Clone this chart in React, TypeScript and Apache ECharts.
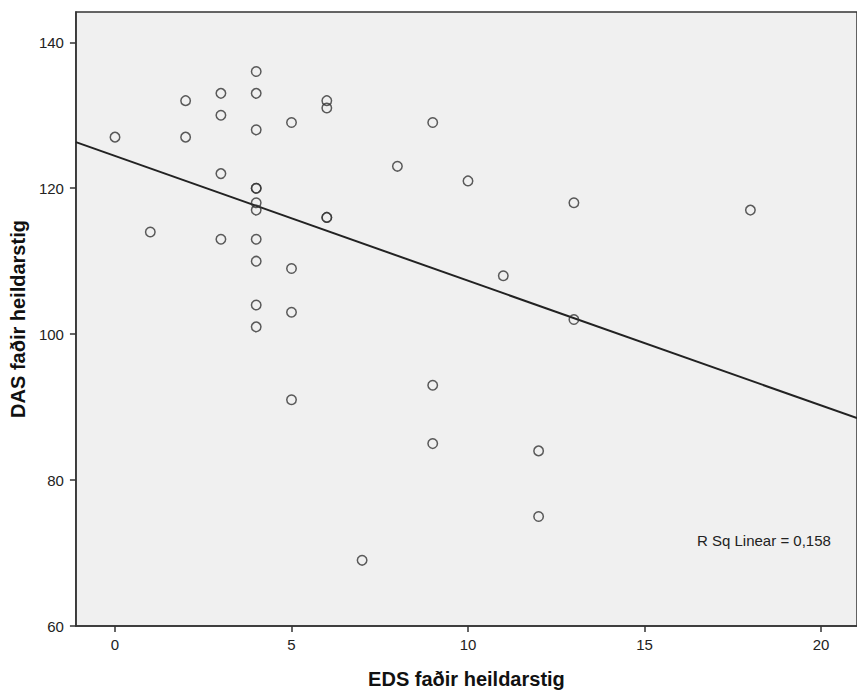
import React, { useEffect, useRef } from "react";
import * as echarts from "echarts";

// EDS faðir heildarstig (x) and DAS faðir heildarstig (y)
const edsValues: number[] = [
  0, 1, 2, 2, 3, 3, 3, 3,
  4, 4, 4, 4, 4, 4, 4, 4, 4, 4, 4,
  5, 5, 5, 5,
  6, 6, 6, 6,
  7, 8, 9, 9, 9, 10, 11, 12, 12, 13, 13, 18,
];
const dasValues: number[] = [
  127, 114, 132, 127, 133, 130, 122, 113,
  136, 133, 128, 120, 120, 118, 117, 113, 110, 104, 101,
  129, 109, 103, 91,
  132, 131, 116, 116,
  69, 123, 129, 93, 85, 121, 108, 84, 75, 118, 102, 117,
];
const xTicks: number[] = [0, 5, 10, 15, 20];
const yTicks: number[] = [60, 80, 100, 120, 140];
const rSquaredLabel = "R Sq Linear = 0,158";
const xTitle = "EDS faðir heildarstig";
const yTitle = "DAS faðir heildarstig";

const X_MIN = -1.107;
const X_MAX = 21.02;
const Y_MIN = 60;
const Y_MAX = 144.15;

export default function App() {
  const ref = useRef<HTMLDivElement>(null);
  useEffect(() => {
    if (!ref.current) return;
    const chart = echarts.init(ref.current, undefined, { renderer: "svg" });
    const pts = edsValues.map((x, i) => [x, dasValues[i]]);
    const n = pts.length;
    const mx = edsValues.reduce((a, b) => a + b, 0) / n;
    const my = dasValues.reduce((a, b) => a + b, 0) / n;
    let sxy = 0;
    let sxx = 0;
    pts.forEach(([x, y]) => {
      sxy += (x - mx) * (y - my);
      sxx += (x - mx) * (x - mx);
    });
    const slope = sxy / sxx;
    const intercept = my - slope * mx;
    const fit = [
      [X_MIN, intercept + slope * X_MIN],
      [X_MAX, intercept + slope * X_MAX],
    ];
    const font = "'Liberation Sans', Arial, sans-serif";
    chart.setOption({
      animation: false,
      grid: {
        left: 75,
        top: 12,
        right: -3,
        bottom: 67,
        show: true,
        backgroundColor: "#f0f0f0",
        borderColor: "#333",
        borderWidth: 1.5,
      },
      xAxis: {
        type: "value",
        min: X_MIN,
        max: X_MAX,
        name: xTitle,
        nameLocation: "middle",
        nameGap: 43,
        nameTextStyle: { fontFamily: font, fontSize: 20, fontWeight: "bold", color: "#111" },
        axisLine: { show: true, onZero: false, lineStyle: { color: "#333", width: 1.5 } },
        axisTick: { show: true, customValues: xTicks, length: 6, lineStyle: { color: "#333", width: 1.5 } },
        axisLabel: { customValues: xTicks, margin: 11, fontFamily: font, fontSize: 15, color: "#222" },
        splitLine: { show: false },
      },
      yAxis: {
        type: "value",
        min: Y_MIN,
        max: Y_MAX,
        name: yTitle,
        nameLocation: "middle",
        nameRotate: 90,
        nameGap: 43,
        nameTextStyle: { fontFamily: font, fontSize: 20, fontWeight: "bold", color: "#111" },
        axisLine: { show: true, onZero: false, lineStyle: { color: "#333", width: 1.5 } },
        axisTick: { show: true, customValues: yTicks, length: 6, lineStyle: { color: "#333", width: 1.5 } },
        axisLabel: { customValues: yTicks, margin: 12, fontFamily: font, fontSize: 15, color: "#222" },
        splitLine: { show: false },
      },
      series: [
        {
          type: "line",
          data: fit,
          symbol: "none",
          lineStyle: { color: "#222", width: 2 },
          z: 2,
        },
        {
          type: "scatter",
          data: pts,
          symbol: "circle",
          symbolSize: 9.5,
          itemStyle: { color: "rgba(0,0,0,0)", borderColor: "#333", borderWidth: 1.5 },
          z: 3,
        },
      ],
      graphic: [
        {
          type: "text",
          left: 697,
          top: 533,
          style: { text: rSquaredLabel, font: `15px ${font}`, fill: "#222" },
        },
      ],
    });
    return () => chart.dispose();
  }, []);
  return (
    <div
      ref={ref}
      style={{ position: "fixed", left: 0, top: 0, width: 857, height: 694, overflow: "hidden", background: "#fff" }}
    />
  );
}
